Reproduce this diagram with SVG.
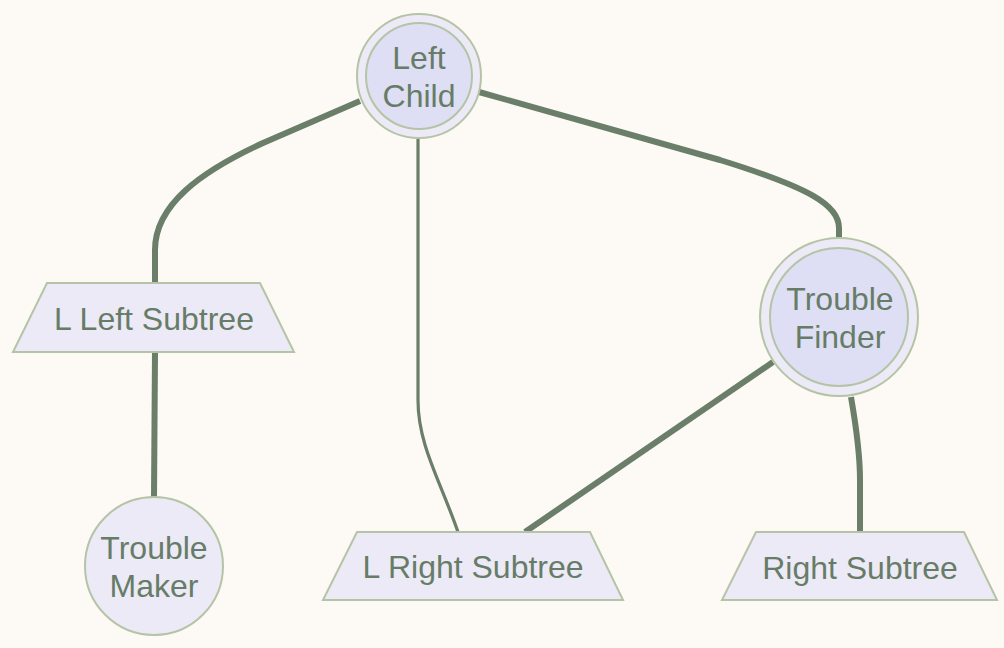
<svg xmlns="http://www.w3.org/2000/svg" width="1004" height="648" viewBox="0 0 1004 648">
<style>
.bg{fill:#FDF9F4}
.node{fill:#ECEAF6;stroke:#B5C4A6;stroke-width:2}
.inner{fill:#DEDFF4;stroke:#B5C4A6;stroke-width:2}
.lbl{font-family:"Liberation Sans",Arial,sans-serif;font-size:32px;fill:#677C67;text-anchor:middle}
.edge{fill:none;stroke:#6A7E69;stroke-width:6}
.thin{stroke-width:3.2}
</style>
<rect class="bg" x="0" y="0" width="1004" height="648"/>
<g id="connectors">
<path class="edge" d="M360,101 L263,143 C200,172 155,205 155,250 L155,283"/>
<path class="edge thin" d="M418,139 L418,400 C418,445 440,480 458,532"/>
<path class="edge" d="M479,92 L720,160 C810,188 839,205 839,228 L839,237"/>
<path class="edge" d="M773,362 L525,532"/>
<path class="edge" d="M851,397 C855,420 860,450 860,480 L860,532"/>
<path class="edge" d="M155,352 L154,497"/>
</g>
<g id="left-child">
<circle class="node" cx="419" cy="76" r="62"/>
<circle class="inner" cx="419" cy="76" r="53"/>
<text class="lbl" x="419" y="69">Left</text>
<text class="lbl" x="419" y="107">Child</text>
</g>
<g id="trouble-finder">
<circle class="node" cx="839" cy="317" r="79"/>
<circle class="inner" cx="839" cy="317" r="69"/>
<text class="lbl" x="840" y="310">Trouble</text>
<text class="lbl" x="840" y="348">Finder</text>
</g>
<g id="l-left-subtree">
<polygon class="node" points="47,283 260,283 294,352 13,352"/>
<text class="lbl" x="154" y="330">L Left Subtree</text>
</g>
<g id="trouble-maker">
<circle class="node" cx="154" cy="566" r="69"/>
<text class="lbl" x="154" y="559">Trouble</text>
<text class="lbl" x="154" y="597">Maker</text>
</g>
<g id="l-right-subtree">
<polygon class="node" points="357,532 590,532 623,600 323,600"/>
<text class="lbl" x="473" y="578">L Right Subtree</text>
</g>
<g id="right-subtree">
<polygon class="node" points="756,532 964,532 997,600 722,600"/>
<text class="lbl" x="860" y="579">Right Subtree</text>
</g>
</svg>
